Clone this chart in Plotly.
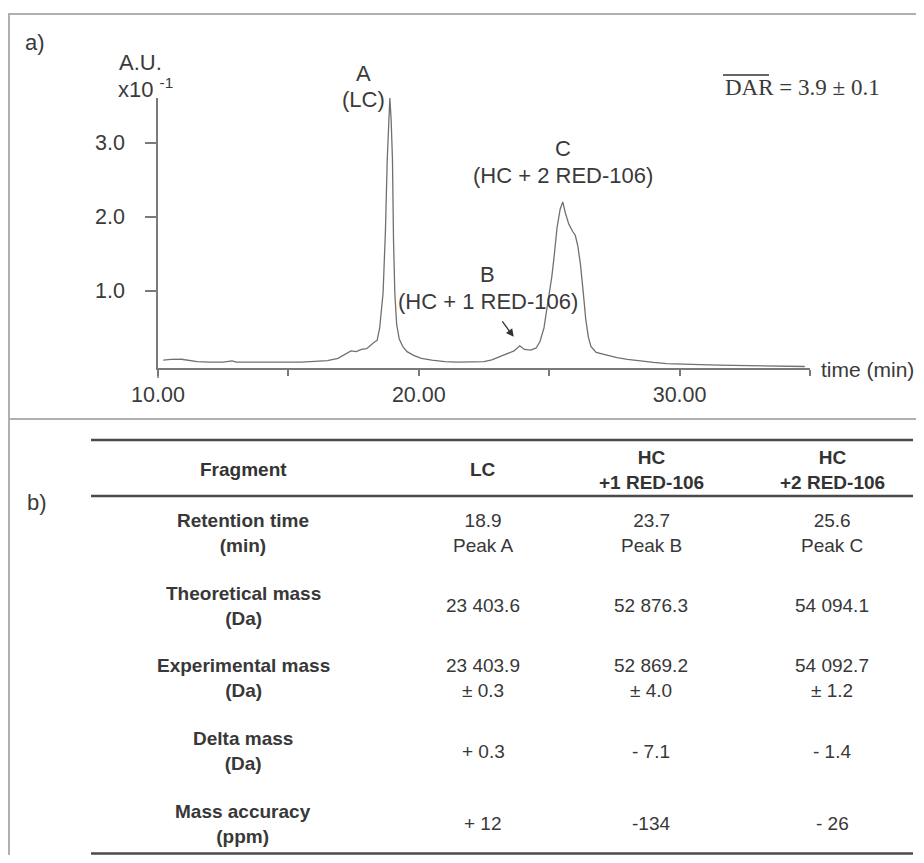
import plotly.graph_objects as go

# ---------------- data ----------------
time_min = [10.2, 10.5, 10.9, 11.2, 11.5, 12.0, 12.5, 12.84, 13.0, 13.6, 14.0, 14.5, 15.0, 15.5,
            16.0, 16.5, 16.9, 17.2, 17.4, 17.6, 17.8, 18.0, 18.15, 18.3, 18.4, 18.5, 18.63, 18.72,
            18.79, 18.85, 18.89, 18.94, 18.99, 19.03, 19.08, 19.15, 19.25, 19.4, 19.55, 19.8, 20.1,
            20.5, 21.0, 21.5, 22.0, 22.5, 22.8, 23.1, 23.4, 23.65, 23.87, 24.05, 24.3, 24.5, 24.65,
            24.8, 24.95, 25.1, 25.2, 25.3, 25.42, 25.52, 25.62, 25.75, 25.9, 26.0, 26.1, 26.2,
            26.3, 26.4, 26.5, 26.6, 26.8, 27.2, 27.6, 28.0, 28.5, 29.0, 29.5, 30.0, 30.8, 31.5,
            32.5, 33.5, 34.8]
absorbance = [0.065, 0.075, 0.078, 0.065, 0.045, 0.04, 0.04, 0.055, 0.04, 0.04, 0.042, 0.045, 0.04, 0.038,
              0.045, 0.06, 0.09, 0.15, 0.19, 0.18, 0.21, 0.22, 0.27, 0.31, 0.33, 0.5, 0.97, 1.8,
              2.77, 3.3, 3.6, 3.3, 2.77, 1.7, 0.97, 0.55, 0.35, 0.24, 0.18, 0.13, 0.09,
              0.065, 0.045, 0.04, 0.04, 0.045, 0.07, 0.11, 0.15, 0.19, 0.26, 0.21, 0.2, 0.23, 0.32,
              0.5, 0.85, 1.19, 1.5, 1.85, 2.1, 2.2, 2.05, 1.9, 1.8, 1.75, 1.6, 1.35,
              1.0, 0.62, 0.38, 0.25, 0.17, 0.13, 0.1, 0.075, 0.05, 0.035, 0.02, 0.012, 0.005, 0.0,
              -0.005, -0.01, -0.02]

x_tick_values = [10, 20, 30]
x_tick_labels = ["10.00", "20.00", "30.00"]
x_minor_ticks = [15, 25, 35]
y_tick_values = [1, 2, 3]
y_tick_labels = ["1.0", "2.0", "3.0"]

peak_letters = ["A", "B", "C"]
peak_names = ["(LC)", "(HC + 1 RED-106)", "(HC + 2 RED-106)"]

table_header = ["Fragment", "LC", "HC\n+1 RED-106", "HC\n+2 RED-106"]
row_labels = ["Retention time\n(min)", "Theoretical mass\n(Da)", "Experimental mass\n(Da)",
              "Delta mass\n(Da)", "Mass accuracy\n(ppm)"]
lc_values = ["18.9\nPeak A", "23 403.6", "23 403.9\n± 0.3", "+ 0.3", "+ 12"]
hc1_values = ["23.7\nPeak B", "52 876.3", "52 869.2\n± 4.0", "- 7.1", "-134"]
hc2_values = ["25.6\nPeak C", "54 094.1", "54 092.7\n± 1.2", "- 1.4", "- 26"]

# ---------------- layout helpers ----------------
# the page body has an 8px margin: the figure is placed at (8, 8)
OFF = 8
W, H = 914, 847
def px(x):
    return (x - OFF) / W
def py(y):
    return 1 - (y - OFF) / H

FONT = "Liberation Sans, Arial, sans-serif"
TXT = "#3a3a3a"
AXC = "#7a7a7a"

fig = go.Figure()
fig.add_trace(go.Scatter(x=time_min, y=absorbance, mode="lines",
                         line=dict(color="#707070", width=1.3), hoverinfo="skip",
                         showlegend=False))

fig.update_layout(
    template="none",
    width=W, height=H,
    margin=dict(l=0, r=0, t=0, b=0, pad=0),
    paper_bgcolor="white", plot_bgcolor="white",
    font=dict(family=FONT, color=TXT, size=22),
    xaxis=dict(domain=[px(158), px(810)], range=[10, 35], showgrid=False, zeroline=False,
               automargin=False,
               showline=True, linecolor=AXC, linewidth=1.5, ticks="outside", ticklen=6,
               tickcolor=AXC, tickwidth=1.5, tickvals=x_tick_values, ticktext=x_tick_labels,
               minor=dict(tickvals=x_minor_ticks, ticks="outside", ticklen=6, tickcolor=AXC,
                          tickwidth=1.5, showgrid=False),
               tickfont=dict(size=21.5, color=TXT, family=FONT), ticklabelstandoff=0),
    yaxis=dict(domain=[py(368), py(98)], range=[-0.04, 3.6], showgrid=False, zeroline=False,
               automargin=False,
               showline=True, linecolor=AXC, linewidth=1.5, ticks="outside", ticklen=11,
               tickcolor=AXC, tickwidth=1.5, tickvals=y_tick_values, ticktext=y_tick_labels,
               tickfont=dict(size=21.5, color=TXT, family=FONT), ticklabelstandoff=16),
)

ann = []
def text(x, y, s, size=22, xanchor="center", color=TXT, family=FONT, bold=False):
    s = s.replace("\n", "<br>")
    if bold:
        s = "<br>".join("<b>%s</b>" % p for p in s.split("<br>"))
    ann.append(dict(x=px(x), y=py(y), xref="paper", yref="paper", text=s, showarrow=False,
                    xanchor=xanchor, yanchor="middle", font=dict(size=size, color=color, family=family)))

# panel labels
text(35, 43, "a)")
text(37, 502, "b)")
# axis titles
text(140, 62, "A.U.")
text(145, 88, "x10 <sup>-1</sup>")
text(819, 370, "time (min)", size=21, xanchor="left")

# peak labels (peak B name carries the arrow pointing to its small peak)
label_pos = {"A": (363, 73, 100), "B": (488, 275, 302), "C": (563, 148, 175)}
for letter, name in zip(peak_letters, peak_names):
    x, y1, y2 = label_pos[letter]
    text(x, y1, letter)
    if letter == "B":
        ann.append(dict(x=23.64, y=0.38, xref="x", yref="y", ax=x - 514, ay=y2 - 337,
                        axref="pixel", ayref="pixel", text=name, showarrow=True,
                        arrowhead=2, arrowsize=1.2, arrowwidth=1.3, arrowcolor="#333",
                        startstandoff=7, font=dict(size=22, color=TXT, family=FONT)))
    else:
        text(x, y2, name)

# DAR
text(723, 88, "DAR = 3.9 ± 0.1", size=23, xanchor="left", family="Liberation Serif, serif")

# table
col_x = [243, 483, 651, 832]
header_y = 470
row_y = [533, 605.5, 678, 751, 823.5]
for cx, h in zip(col_x, table_header):
    text(cx, header_y, h, size=19, bold=True, color="#333")
columns = [row_labels, lc_values, hc1_values, hc2_values]
for ci, col in enumerate(columns):
    for ri, val in enumerate(col):
        text(col_x[ci], row_y[ri], val, size=19, bold=(ci == 0), color="#383838")

fig.update_layout(annotations=ann)

shapes = []
def line(x0, y0, x1, y1, color, width):
    shapes.append(dict(type="line", xref="paper", yref="paper", x0=px(x0), y0=py(y0),
                       x1=px(x1), y1=py(y1), line=dict(color=color, width=width)))
# frame
line(8, 14, 924, 14, "#b0b0b0", 2)
line(9, 14, 9, 863, "#b0b0b0", 2)
line(8, 419, 924, 419, "#b0b0b0", 2)
# y axis line continues slightly below the time axis
line(158, 368, 158, 378, AXC, 1.5)
# DAR overline
line(723, 75, 769, 75, "#333", 1.3)
# table rules
for yy in [440, 496, 853.5]:
    line(91, yy, 913, yy, "#4a4a4a", 2.5)
fig.update_layout(shapes=shapes)

fig.write_html("out.html")
